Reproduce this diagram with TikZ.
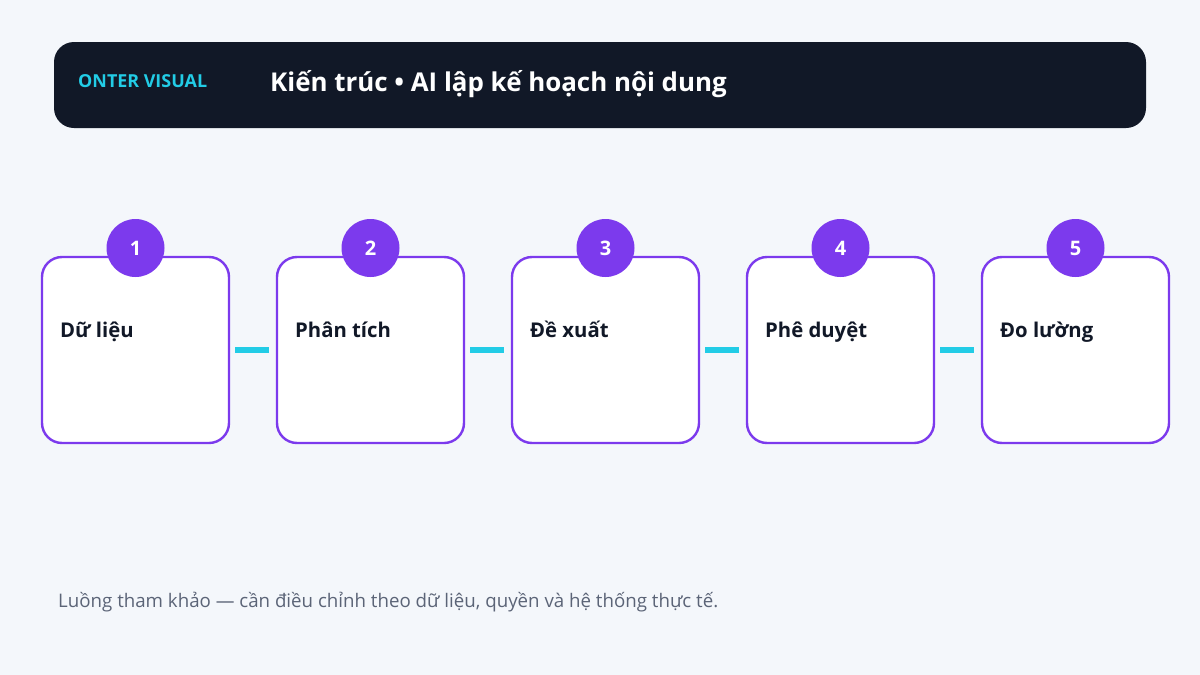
\documentclass[tikz,border=0pt]{standalone}
\usepackage{fontspec}
\setmainfont{Open Sans}
\definecolor{bg}{HTML}{F4F7FB}
\definecolor{hdr}{HTML}{111827}
\definecolor{cy}{HTML}{22CCE6}
\definecolor{pur}{HTML}{7C3AED}
\definecolor{ink}{HTML}{111827}
\definecolor{foot}{HTML}{5B6477}
\begin{document}
\begin{tikzpicture}[x=1pt,y=-1pt,
  card/.style={draw=pur,line width=2.4pt,fill=white,rounded corners=20pt,minimum width=187pt,minimum height=186pt,inner sep=0pt},
  badge/.style={circle,fill=pur,minimum size=58pt,inner sep=0pt,text=white,font=\bfseries\fontsize{20}{22}\selectfont},
  lbl/.style={anchor=base west,text=ink,font=\bfseries\fontsize{20.3}{22}\selectfont,inner sep=0pt},
  link/.style={draw=cy,line width=6pt,shorten <=5pt,shorten >=7pt}]
\useasboundingbox (0,0) rectangle (1200,675);
\fill[bg] (0,0) rectangle (1200,675);
\node[fill=hdr,rounded corners=20pt,minimum width=1092pt,minimum height=86pt,inner sep=0pt] (hdr) at (600,85) {};
\node[anchor=base west,text=cy,font=\bfseries\fontsize{17.9}{20}\selectfont,inner sep=0pt] (brand) at (78,87.5) {ONTER VISUAL};
\node[anchor=base west,text=white,font=\bfseries\fontsize{25.9}{28}\selectfont,inner sep=0pt] (title) at (270,91) {Kiến trúc • AI lập kế hoạch nội dung};
\foreach \i/\t in {1/Dữ liệu,2/Phân tích,3/Đề xuất,4/Phê duyệt,5/Đo lường}{
  \pgfmathsetmacro{\cx}{135.5+235*(\i-1)}
  \node[card] (b\i) at (\cx,350) {};
  \node[badge] (c\i) at (\cx,248) {\i};
  \node[lbl] (l\i) at (\cx-75.5,337) {\t};
}
\foreach \a/\b in {1/2,2/3,3/4,4/5}{
  \draw[link] (b\a.east) -- (b\b.west);
}
\node[anchor=base west,text=foot,font=\fontsize{18.7}{20}\selectfont,inner sep=0pt] (foot) at (58,607) {Luồng tham khảo — cần điều chỉnh theo dữ liệu, quyền và hệ thống thực tế.};
\end{tikzpicture}
\end{document}
